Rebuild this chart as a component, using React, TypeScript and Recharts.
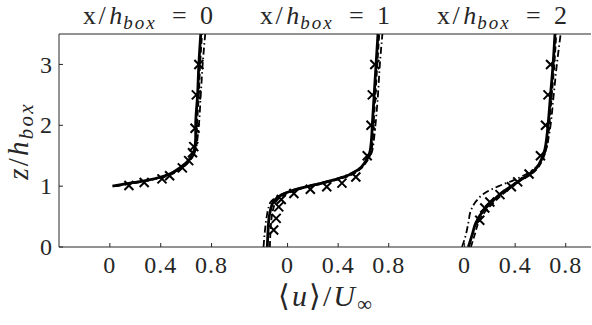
import React from "react";
import { ComposedChart, Line, Scatter, XAxis, YAxis } from "recharts";

const FONT = '"Liberation Serif", serif';
const INK = "#262626";

const uTicks = [0, 0.4, 0.8];
const zTicks = [0, 1, 2, 3];
const stations = ["0", "1", "2"];

// x/h_box = 0
const zA0 = [1.0, 1.03, 1.06, 1.1, 1.15, 1.2, 1.3, 1.45, 1.6, 1.8, 2.0, 2.5, 3.0, 3.5];
const uSolid0 = [0.02, 0.1, 0.19, 0.3, 0.4, 0.47, 0.55, 0.63, 0.665, 0.675, 0.675, 0.69, 0.7, 0.715];
const uDash0 = [0.05, 0.13, 0.22, 0.32, 0.42, 0.49, 0.57, 0.64, 0.67, 0.68, 0.685, 0.7, 0.71, 0.725];
const uDashDot0 = [0.04, 0.12, 0.21, 0.31, 0.41, 0.48, 0.56, 0.64, 0.675, 0.69, 0.7, 0.715, 0.73, 0.75];
const zMark0 = [1.01, 1.06, 1.12, 1.17, 1.3, 1.42, 1.55, 1.65, 1.95, 2.5, 3.0];
const uMark0 = [0.15, 0.27, 0.41, 0.47, 0.57, 0.62, 0.65, 0.66, 0.67, 0.68, 0.7];

// x/h_box = 1
const zA1 = [0, 0.25, 0.5, 0.65, 0.75, 0.83, 0.9, 0.96, 1.02, 1.1, 1.18, 1.28, 1.4, 1.55, 1.8, 2.0, 2.5, 3.0, 3.5];
const uSolid1 = [-0.16, -0.155, -0.145, -0.13, -0.11, -0.07, 0.0, 0.09, 0.21, 0.36, 0.48, 0.565, 0.615, 0.65, 0.665, 0.67, 0.685, 0.7, 0.715];
const uDash1 = [-0.14, -0.135, -0.125, -0.11, -0.09, -0.05, 0.02, 0.11, 0.23, 0.38, 0.5, 0.575, 0.625, 0.66, 0.675, 0.68, 0.695, 0.71, 0.725];
const uDashDot1 = [-0.19, -0.18, -0.165, -0.15, -0.13, -0.08, -0.01, 0.08, 0.2, 0.35, 0.47, 0.56, 0.62, 0.665, 0.685, 0.695, 0.715, 0.73, 0.75];
const zMark1 = [0.28, 0.47, 0.66, 0.78, 0.88, 0.95, 0.99, 1.05, 1.15, 1.5, 2.0, 2.5, 3.0];
const uMark1 = [-0.11, -0.09, -0.07, -0.05, 0.05, 0.18, 0.31, 0.43, 0.54, 0.63, 0.66, 0.67, 0.69];

// x/h_box = 2
const zA2 = [0, 0.2, 0.4, 0.6, 0.75, 0.9, 1.0, 1.1, 1.2, 1.3, 1.45, 1.6, 1.8, 2.0, 2.5, 3.0, 3.5];
const uSolid2 = [0.03, 0.06, 0.09, 0.15, 0.22, 0.3, 0.37, 0.44, 0.52, 0.57, 0.61, 0.635, 0.65, 0.66, 0.68, 0.7, 0.715];
const uDash2 = [0.05, 0.08, 0.11, 0.17, 0.24, 0.32, 0.38, 0.45, 0.53, 0.58, 0.62, 0.645, 0.66, 0.67, 0.69, 0.71, 0.725];
const uDashDot2 = [-0.02, 0.01, 0.03, 0.05, 0.09, 0.17, 0.27, 0.39, 0.49, 0.56, 0.615, 0.645, 0.665, 0.68, 0.705, 0.73, 0.76];
const zMark2 = [0.44, 0.64, 0.74, 0.86, 0.99, 1.07, 1.2, 1.5, 2.0, 2.5, 3.0];
const uMark2 = [0.12, 0.16, 0.2, 0.28, 0.37, 0.42, 0.51, 0.6, 0.64, 0.66, 0.68];

const pts = (u: number[], z: number[]) => z.map((zz, i) => ({ u: u[i], z: zz }));

const panels = [
  { left: 0, width: 238, yLabels: true, solid: pts(uSolid0, zA0), dashed: pts(uDash0, zA0), dashdot: pts(uDashDot0, zA0), marks: pts(uMark0, zMark0) },
  { left: 236, width: 179, yLabels: false, solid: pts(uSolid1, zA1), dashed: pts(uDash1, zA1), dashdot: pts(uDashDot1, zA1), marks: pts(uMark1, zMark1) },
  { left: 413, width: 179, yLabels: false, solid: pts(uSolid2, zA2), dashed: pts(uDash2, zA2), dashdot: pts(uDashDot2, zA2), marks: pts(uMark2, zMark2) },
];

const txt = { fontFamily: FONT, fontSize: 24 };
const ital = { fontStyle: "italic" as const };

const Cross = (props: any) => {
  const { cx, cy } = props;
  if (cx == null || cy == null) return null;
  const s = 4.5;
  return (
    <path
      d={`M${cx - s},${cy - s}L${cx + s},${cy + s}M${cx - s},${cy + s}L${cx + s},${cy - s}`}
      stroke="#000"
      strokeWidth={2}
    />
  );
};

const UTick = ({ x, y, payload }: any) => (
  <text x={x} y={y} dy="0.71em" textAnchor="middle" fill={INK} style={{ ...txt, letterSpacing: 1 }}>
    {String(payload.value)}
  </text>
);

const ZTick = ({ x, y, payload }: any) => (
  <text x={x} y={y} dy="0.34em" textAnchor="end" fill={INK} style={txt}>
    {String(payload.value)}
  </text>
);

function Panel({ left, width, yLabels, solid, dashed, dashdot, marks }: any) {
  return (
    <div style={{ position: "absolute", left, top: 0 }}>
      <ComposedChart width={width} height={325} margin={{ top: 0, right: 1, bottom: 0, left: yLabels ? 0 : 1 }}>
        <XAxis xAxisId="b" type="number" dataKey="u" domain={[-0.4, 1]} ticks={uTicks} interval={0}
          allowDataOverflow height={78} tickSize={-4} tickMargin={13} stroke={INK} tick={<UTick />} />
        <XAxis xAxisId="t" orientation="top" type="number" dataKey="u" domain={[-0.4, 1]} ticks={uTicks}
          interval={0} allowDataOverflow height={34} tickSize={-4} tick={false} stroke={INK} />
        <YAxis yAxisId="l" type="number" dataKey="z" domain={[0, 3.5]} ticks={zTicks} interval={0}
          allowDataOverflow width={yLabels ? 59 : 0} tickSize={-4} tickMargin={11}
          tick={yLabels ? <ZTick /> : false} stroke={INK} />
        <YAxis yAxisId="r" orientation="right" type="number" dataKey="z" domain={[0, 3.5]} ticks={zTicks}
          interval={0} allowDataOverflow width={0} tickSize={-4} tick={false} stroke={INK} />
        <Line xAxisId="b" yAxisId="l" data={dashdot} dataKey="z" type="monotoneY" stroke="#000"
          strokeWidth={1.8} strokeDasharray="7 3 1.5 3" dot={false} isAnimationActive={false} />
        <Line xAxisId="b" yAxisId="l" data={dashed} dataKey="z" type="monotoneY" stroke="#000"
          strokeWidth={1.8} strokeDasharray="6 3" dot={false} isAnimationActive={false} />
        <Line xAxisId="b" yAxisId="l" data={solid} dataKey="z" type="monotoneY" stroke="#000"
          strokeWidth={2.8} dot={false} isAnimationActive={false} />
        <Scatter xAxisId="b" yAxisId="l" data={marks} shape={Cross} isAnimationActive={false} />
      </ComposedChart>
    </div>
  );
}

const titleStart = [83, 260, 437];

export default function App() {
  return (
    <div style={{ position: "absolute", left: 0, top: 0, width: 592, height: 325, background: "#fff", fontFamily: FONT }}>
      {panels.map((p, i) => (
        <Panel key={i} {...p} />
      ))}
      <svg width={592} height={325} style={{ position: "absolute", left: 0, top: 0, pointerEvents: "none", fontFamily: FONT }}>
        {stations.map((s, i) => (
          <text key={s} y={24} fill={INK} style={{ fontFamily: FONT, fontSize: 26 }}>
            <tspan x={titleStart[i]} style={{ letterSpacing: 2.5 }}>x/</tspan>
            <tspan style={ital} dx={1}>h</tspan>
            <tspan style={{ ...ital, fontSize: 19, letterSpacing: 2 }} dy={5} dx={1}>box</tspan>
            <tspan x={titleStart[i] + 89} dy={-5}>=</tspan>
            <tspan x={titleStart[i] + 117}>{s}</tspan>
          </text>
        ))}
        <text transform="rotate(-90)" x={-141} y={28} textAnchor="middle" fill={INK}
          style={{ fontFamily: FONT, fontSize: 29, letterSpacing: 2.2 }}>
          <tspan style={ital}>z</tspan>
          <tspan>/</tspan>
          <tspan style={ital}>h</tspan>
          <tspan style={{ ...ital, fontSize: 21 }} dy={5}>box</tspan>
        </text>
        <text x={326} y={306} textAnchor="middle" fill={INK} style={{ fontFamily: FONT, fontSize: 30, letterSpacing: 2 }}>
          <tspan>⟨</tspan>
          <tspan style={ital}>u</tspan>
          <tspan>⟩/</tspan>
          <tspan style={ital}>U</tspan>
          <tspan style={{ fontSize: 21 }} dy={5}>∞</tspan>
        </text>
      </svg>
    </div>
  );
}
